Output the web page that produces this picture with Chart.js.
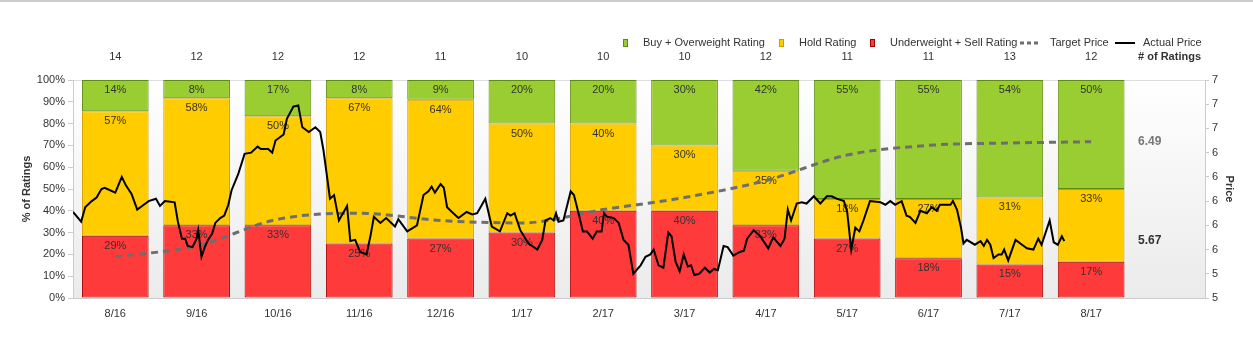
<!DOCTYPE html>
<html lang="en">
<head>
  <meta charset="UTF-8">
  <title>Analyst ratings and price</title>
  <style>
    body {
      margin: 0;
      background: #ffffff;
    }
    canvas {
      display: block;
    }
  </style>
</head>
<body>
  <canvas id="chartRatings" width="1253" height="340"></canvas>

  <script src="https://cdn.jsdelivr.net/npm/chart.js"></script>
  <script>
    // months shown under the bars
    const months = ['8/16', '9/16', '10/16', '11/16', '12/16', '1/17', '2/17', '3/17', '4/17', '5/17', '6/17', '7/17', '8/17'];

    // number of ratings per month, by type
    const buyCount = [2, 1, 2, 1, 1, 2, 2, 3, 5, 6, 6, 7, 6];
    const holdCount = [8, 7, 6, 8, 7, 5, 4, 3, 3, 2, 3, 4, 4];
    const sellCount = [4, 4, 4, 3, 3, 3, 4, 4, 4, 3, 2, 2, 2];

    // average target price, one per month
    const targetPrice = [5.54, 5.63, 5.85, 5.90, 5.84, 5.82, 5.93, 6.03, 6.17, 6.38, 6.46, 6.48, 6.49];

    // actual price: time in months (0 = 8/16) and price
    const priceT = [
      -0.52, -0.42, -0.37, -0.29, -0.23, -0.17, -0.13, 0.00, 0.08, 0.13,
      0.20, 0.27, 0.33, 0.41, 0.50, 0.55, 0.61, 0.73, 0.77, 0.82,
      0.86, 0.89, 0.95, 1.00, 1.02, 1.06, 1.10, 1.14, 1.19, 1.23,
      1.29, 1.34, 1.39, 1.43, 1.51, 1.59, 1.67, 1.75, 1.79, 1.88,
      1.93, 1.97, 2.07, 2.11, 2.19, 2.25, 2.30, 2.38, 2.46, 2.52,
      2.56, 2.60, 2.64, 2.69, 2.75, 2.85, 2.89, 2.95, 3.01, 3.09,
      3.14, 3.18, 3.26, 3.33, 3.44, 3.48, 3.59, 3.71, 3.79, 3.85,
      3.89, 3.93, 4.00, 4.04, 4.08, 4.14, 4.22, 4.32, 4.39, 4.45,
      4.55, 4.63, 4.73, 4.82, 4.86, 4.91, 4.98, 5.08, 5.19, 5.25,
      5.29, 5.35, 5.39, 5.42, 5.45, 5.51, 5.60, 5.64, 5.70, 5.75,
      5.80, 5.87, 5.92, 5.98, 6.01, 6.05, 6.13, 6.19, 6.25, 6.31,
      6.37, 6.46, 6.52, 6.58, 6.62, 6.68, 6.74, 6.80, 6.84, 6.89,
      6.94, 6.99, 7.04, 7.08, 7.12, 7.18, 7.25, 7.31, 7.36, 7.41,
      7.48, 7.53, 7.60, 7.68, 7.73, 7.77, 7.85, 7.93, 8.03, 8.09,
      8.18, 8.23, 8.27, 8.31, 8.38, 8.44, 8.50, 8.59, 8.67, 8.75,
      8.81, 8.87, 8.96, 9.00, 9.05, 9.10, 9.15, 9.20, 9.28, 9.41,
      9.47, 9.53, 9.59, 9.67, 9.73, 9.77, 9.84, 9.90, 9.98, 10.04,
      10.10, 10.14, 10.27, 10.30, 10.35, 10.40, 10.43, 10.47, 10.57, 10.64,
      10.68, 10.72, 10.76, 10.80, 10.86, 10.90, 10.93, 10.98, 11.07, 11.15,
      11.21, 11.29, 11.35, 11.39, 11.49, 11.54, 11.59, 11.64, 11.67
    ];
    const priceV = [
      5.91, 5.83, 5.95, 6.00, 6.03, 6.10, 6.11, 6.07, 6.20, 6.13,
      6.06, 5.93, 5.96, 6.00, 6.02, 5.96, 6.00, 5.99, 5.83, 5.69,
      5.69, 5.63, 5.62, 5.69, 5.76, 5.54, 5.62, 5.68, 5.73, 5.82,
      5.86, 5.88, 5.97, 6.09, 6.22, 6.39, 6.40, 6.45, 6.43, 6.43,
      6.40, 6.50, 6.55, 6.68, 6.78, 6.79, 6.61, 6.57, 6.61, 6.57,
      6.42, 6.22, 6.02, 6.05, 5.84, 5.96, 5.67, 5.68, 5.58, 5.56,
      5.72, 5.87, 5.82, 5.86, 5.79, 5.85, 5.75, 5.80, 6.05, 6.08,
      6.12, 6.07, 6.14, 6.11, 5.95, 5.91, 5.86, 5.91, 5.89, 5.90,
      6.02, 5.79, 5.75, 5.90, 5.88, 5.90, 5.76, 5.65, 5.60, 5.68,
      5.84, 5.86, 5.84, 5.90, 5.83, 5.84, 6.08, 6.05, 5.89, 5.75,
      5.75, 5.69, 5.75, 5.75, 5.90, 5.87, 5.86, 5.82, 5.68, 5.64,
      5.40, 5.47, 5.54, 5.56, 5.60, 5.47, 5.45, 5.74, 5.71, 5.50,
      5.42, 5.56, 5.46, 5.47, 5.39, 5.40, 5.45, 5.41, 5.44, 5.43,
      5.63, 5.62, 5.55, 5.58, 5.59, 5.69, 5.76, 5.71, 5.61, 5.70,
      5.63, 5.69, 5.93, 5.84, 5.98, 5.99, 5.98, 6.04, 5.98, 6.04,
      6.04, 6.02, 6.00, 5.91, 5.60, 5.78, 5.75, 5.84, 6.00, 5.99,
      5.97, 6.00, 5.97, 6.00, 5.88, 5.87, 5.82, 5.92, 5.90, 5.95,
      5.92, 5.97, 5.97, 6.00, 5.93, 5.78, 5.65, 5.68, 5.64, 5.67,
      5.63, 5.68, 5.64, 5.53, 5.56, 5.56, 5.60, 5.51, 5.68, 5.64,
      5.61, 5.60, 5.69, 5.64, 5.84, 5.66, 5.64, 5.71, 5.67
    ];

    const totals = months.map((m, i) => buyCount[i] + holdCount[i] + sellCount[i]);
    const pct = (arr) => arr.map((v, i) => ({ x: i, y: v / totals[i] * 100 }));

    Chart.defaults.font.family = '"Liberation Sans", Arial, sans-serif';
    Chart.defaults.font.size = 11;
    Chart.defaults.color = '#333333';

    const legendItems = [
      { kind: 'box', fill: '#9acd32', line: '#5e8a14', text: 'Buy + Overweight Rating', mx: 624, tx: 643 },
      { kind: 'box', fill: '#ffcc00', line: '#d19c00', text: 'Hold Rating', mx: 780, tx: 799 },
      { kind: 'box', fill: '#ff3a3a', line: '#a30000', text: 'Underweight + Sell Rating', mx: 871, tx: 890 },
      { kind: 'dash', line: '#6e6e6e', text: 'Target Price', mx: 1020, tx: 1050 },
      { kind: 'solid', line: '#000000', text: 'Actual Price', mx: 1115, tx: 1143 }
    ];

    const extras = {
      id: 'extras',
      beforeDraw(chart) {
        const { ctx, chartArea: a } = chart;
        ctx.save();
        const g = ctx.createLinearGradient(0, a.top, 0, a.bottom);
        g.addColorStop(0, '#ffffff');
        g.addColorStop(1, '#ebebeb');
        ctx.fillStyle = g;
        ctx.fillRect(a.left, a.top, a.right - a.left, a.bottom - a.top);
        ctx.strokeStyle = '#dddddd';
        ctx.lineWidth = 1;
        ctx.beginPath();
        ctx.moveTo(a.left, a.top + 0.5);
        ctx.lineTo(a.right, a.top + 0.5);
        ctx.stroke();
        // thin rule across the top of the page
        ctx.strokeStyle = '#cccccc';
        ctx.lineWidth = 2;
        ctx.beginPath();
        ctx.moveTo(0, 1);
        ctx.lineTo(chart.width, 1);
        ctx.stroke();
        ctx.restore();
      },
      afterDatasetDraw(chart, args) {
        const meta = args.meta;
        if (meta.type !== 'bar') return;
        const ctx = chart.ctx;
        const ds = chart.data.datasets[args.index];
        ctx.save();
        ctx.font = '11px "Liberation Sans", Arial, sans-serif';
        ctx.fillStyle = '#333333';
        ctx.textAlign = 'center';
        ctx.textBaseline = 'middle';
        meta.data.forEach((el, i) => {
          ctx.fillText(Math.round(ds.data[i].y) + '%', el.x, el.y + 10);
        });
        ctx.restore();
      },
      afterDraw(chart) {
        const { ctx, chartArea: a } = chart;
        const xs = chart.scales.x;
        const y2 = chart.scales.y2;
        ctx.save();
        ctx.textBaseline = 'middle';

        // legend
        ctx.font = '11px "Liberation Sans", Arial, sans-serif';
        legendItems.forEach(it => {
          const cy = 43;
          if (it.kind === 'box') {
            ctx.fillStyle = it.fill;
            ctx.fillRect(it.mx, cy - 3, 3, 6);
            ctx.strokeStyle = it.line;
            ctx.lineWidth = 1;
            ctx.strokeRect(it.mx - 0.5, cy - 3.5, 4, 7);
          } else {
            ctx.strokeStyle = it.line;
            ctx.lineWidth = it.kind === 'dash' ? 3 : 2;
            ctx.setLineDash(it.kind === 'dash' ? [4, 3] : []);
            ctx.beginPath();
            ctx.moveTo(it.mx, cy);
            ctx.lineTo(it.mx + 20, cy);
            ctx.stroke();
            ctx.setLineDash([]);
          }
          ctx.fillStyle = '#333333';
          ctx.textAlign = 'left';
          ctx.fillText(it.text, it.tx, cy);
        });

        // number of ratings row
        ctx.textAlign = 'center';
        totals.forEach((n, i) => {
          ctx.fillText(String(n), xs.getPixelForValue(i), 57);
        });
        ctx.font = 'bold 11px "Liberation Sans", Arial, sans-serif';
        ctx.textAlign = 'right';
        ctx.fillText('# of Ratings', 1201, 57);

        // last values in the right panel
        const lastTarget = targetPrice[targetPrice.length - 1];
        const lastPrice = priceV[priceV.length - 1];
        ctx.font = 'bold 12px "Liberation Sans", Arial, sans-serif';
        ctx.textAlign = 'left';
        ctx.fillStyle = '#777777';
        ctx.fillText(lastTarget.toFixed(2), a.right - 67, y2.getPixelForValue(lastTarget));
        ctx.fillStyle = '#333333';
        ctx.fillText(lastPrice.toFixed(2), a.right - 67, y2.getPixelForValue(lastPrice));
        ctx.restore();
      }
    };

    new Chart(document.getElementById('chartRatings'), {
      type: 'bar',
      data: {
        datasets: [
          {
            label: 'Underweight + Sell Rating',
            data: pct(sellCount),
            backgroundColor: '#ff3a3a',
            borderColor: '#a30000',
            borderWidth: 1,
            borderSkipped: false,
            order: 3
          },
          {
            label: 'Hold Rating',
            data: pct(holdCount),
            backgroundColor: '#ffcc00',
            borderColor: '#d19c00',
            borderWidth: 1,
            borderSkipped: false,
            order: 3
          },
          {
            label: 'Buy + Overweight Rating',
            data: pct(buyCount),
            backgroundColor: '#9acd32',
            borderColor: '#5e8a14',
            borderWidth: 1,
            borderSkipped: false,
            order: 3
          },
          {
            type: 'line',
            label: 'Target Price',
            data: targetPrice.map((v, i) => ({ x: i, y: v })),
            yAxisID: 'y2',
            borderColor: '#6e6e6e',
            borderWidth: 3,
            borderDash: [7, 5],
            cubicInterpolationMode: 'monotone',
            pointRadius: 0,
            fill: false,
            order: 2
          },
          {
            type: 'line',
            label: 'Actual Price',
            data: priceT.map((t, i) => ({ x: t, y: priceV[i] })),
            yAxisID: 'y2',
            borderColor: '#000000',
            borderWidth: 2,
            tension: 0,
            pointRadius: 0,
            fill: false,
            order: 1
          }
        ]
      },
      options: {
        responsive: false,
        animation: false,
        devicePixelRatio: 1,
        layout: { padding: { top: 80 } },
        plugins: {
          legend: { display: false },
          tooltip: { enabled: false }
        },
        datasets: {
          bar: { categoryPercentage: 1, barPercentage: 0.82 }
        },
        scales: {
          x: {
            type: 'linear',
            offset: false,
            min: -0.52,
            max: 13.4,
            stacked: true,
            grid: { display: false, drawTicks: false, offset: false },
            border: { color: '#cccccc' },
            ticks: {
              padding: 9,
              autoSkip: false,
              maxRotation: 0,
              callback: (v) => months[v] ?? ''
            },
            afterBuildTicks: (s) => { s.ticks = months.map((m, i) => ({ value: i })); },
            afterFit: (s) => { s.height = 42; }
          },
          y: {
            position: 'left',
            stacked: true,
            min: 0,
            max: 100,
            grid: { drawOnChartArea: false, tickLength: 5, color: '#cccccc' },
            border: { color: '#cccccc' },
            ticks: { stepSize: 10, padding: 3, callback: (v) => v + '%' },
            title: {
              display: true,
              text: '% of Ratings',
              color: '#333333',
              font: { weight: 'bold', size: 11 },
              padding: { top: 20, bottom: 0 }
            },
            afterFit: (s) => { s.width = 73; }
          },
          y2: {
            position: 'right',
            stacked: false,
            min: 5.2,
            max: 7.0,
            grid: { drawOnChartArea: false, tickLength: 4, color: '#cccccc' },
            border: { color: '#cccccc' },
            ticks: { stepSize: 0.2, padding: 3, callback: (v) => Math.round(v) },
            title: {
              display: true,
              text: 'Price',
              color: '#333333',
              font: { weight: 'bold', size: 11 },
              padding: { top: 17, bottom: 0 }
            },
            afterFit: (s) => { s.width = 48; }
          }
        }
      },
      plugins: [extras]
    });
  </script>
</body>
</html>
